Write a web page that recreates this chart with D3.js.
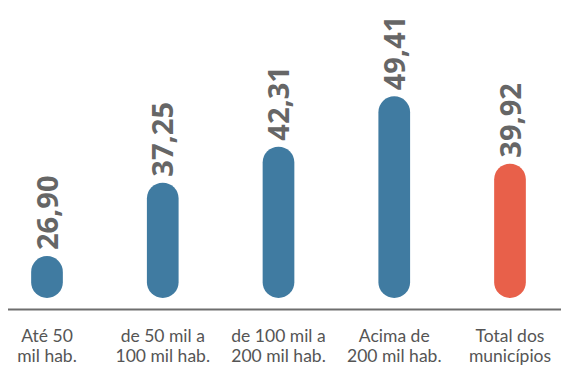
<!DOCTYPE html>
<html>
<head>
<meta charset="utf-8">
<script src="https://cdn.jsdelivr.net/npm/d3@7"></script>
<style>
html,body{margin:0;padding:0;background:#fff;}
svg{display:block;}
</style>
</head>
<body>
<svg id="chart" width="561" height="365"></svg>
<script>
const categories = [["Até 50","mil hab."],["de 50 mil a","100 mil hab."],["de 100 mil a","200 mil hab."],["Acima de","200 mil hab."],["Total dos","municípios"]];
const values = [26.90, 37.25, 42.31, 49.41, 39.92];
const valueLabels = ["26,90","37,25","42,31","49,41","39,92"];
const barColors = ["#407ba1","#407ba1","#407ba1","#407ba1","#e8604a"];

const svg = d3.select("#chart");
const keys = categories.map((c,i)=>i);
const x = d3.scalePoint().domain(keys).range([47, 510]);
const y = d3.scaleLinear().domain([21, 50]).range([298, 92.1]);
const barW = 31.7;
const baseY = y(21);

svg.append("g").selectAll("rect").data(values).join("rect")
  .attr("x", (d,i)=>x(i)-barW/2)
  .attr("y", d=>y(d))
  .attr("width", barW)
  .attr("height", d=>baseY-y(d))
  .attr("rx", barW/2).attr("ry", barW/2)
  .attr("fill", (d,i)=>barColors[i]);

svg.append("g").selectAll("text").data(values).join("text")
  .attr("transform", (d,i)=>`translate(${x(i)+10.5},${y(d)-6}) rotate(-90)`)
  .attr("font-family", "'Open Sans', sans-serif")
  .attr("font-weight", "bold")
  .attr("font-size", 29)
  .attr("fill", "#666666")
  .text((d,i)=>valueLabels[i]);

svg.append("line")
  .attr("x1", 8).attr("x2", 561)
  .attr("y1", 309.5).attr("y2", 309.5)
  .attr("stroke", "#6e6e6e").attr("stroke-width", 2);

const lab = svg.append("g").selectAll("text").data(categories).join("text")
  .attr("text-anchor", "middle")
  .attr("font-family", "Lato, sans-serif")
  .attr("font-size", 17.5)
  .attr("fill", "#555555");
lab.each(function(c,i){
  const t = d3.select(this);
  c.forEach((line,j)=>{
    t.append("tspan").attr("x", x(i)).attr("y", 342 + j*20).text(line);
  });
});
</script>
</body>
</html>
